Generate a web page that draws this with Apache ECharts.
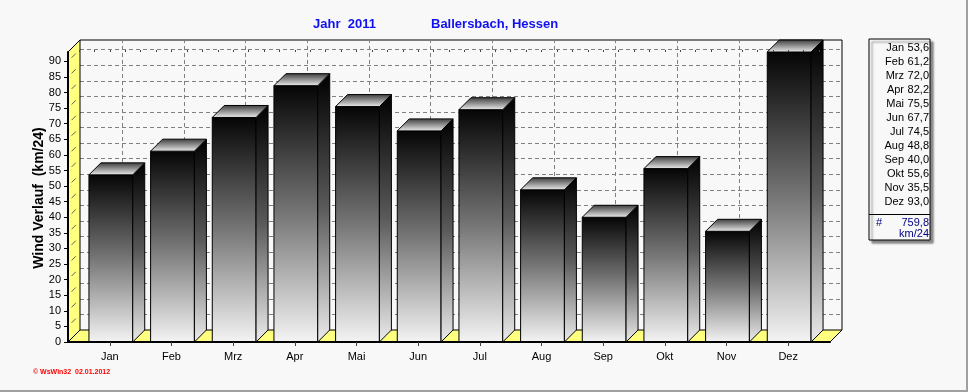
<!DOCTYPE html>
<html>
<head>
<meta charset="utf-8">
<script src="https://cdn.jsdelivr.net/npm/echarts@6/dist/echarts.min.js"></script>
<style>
html,body{margin:0;padding:0;background:#f8f8f8;}
#chart{width:968px;height:392px;}
</style>
</head>
<body>
<div id="chart"></div>
<script>
const categories = ['Jan','Feb','Mrz','Apr','Mai','Jun','Jul','Aug','Sep','Okt','Nov','Dez'];
const windValues = [53.6, 61.2, 72.0, 82.2, 75.5, 67.7, 74.5, 48.8, 40.0, 55.6, 35.5, 93.0];
const yTicks = [0,5,10,15,20,25,30,35,40,45,50,55,60,65,70,75,80,85,90];
const yMax = 93;
const totalLabel = '759,8';
const unitLabel = 'km/24';
const titleYear = 'Jahr  2011';
const titleStation = 'Ballersbach, Hessen';
const yAxisTitle = 'Wind Verlauf  (km/24)';
const footerText = '\u00a9 WsWin32  02.01.2012';

const D = 12; // 3D depth in px
const FONT = 'Liberation Sans, Arial, sans-serif';

const chart = echarts.init(document.getElementById('chart'));

function fmt(v){ return v.toFixed(1).replace('.', ','); }

const legendChildren = [];
legendChildren.push({type:'rect', shape:{x:869,y:39,width:61,height:201},
  style:{fill:'#f8f8f8', stroke:'#000', lineWidth:1, shadowColor:'rgba(0,0,0,0.45)', shadowOffsetX:3, shadowOffsetY:3, shadowBlur:2}});
legendChildren.push({type:'line', shape:{x1:869,y1:214.5,x2:930,y2:214.5}, style:{stroke:'#000', lineWidth:1}});
categories.forEach((c,i)=>{
  legendChildren.push({type:'text', style:{text:c, x:904, y:48+14*i, align:'right', verticalAlign:'middle', font:'11px '+FONT, fill:'#000'}});
  legendChildren.push({type:'text', style:{text:fmt(windValues[i]), x:929, y:48+14*i, align:'right', verticalAlign:'middle', font:'11px '+FONT, fill:'#000'}});
});
legendChildren.push({type:'text', style:{text:'#', x:876, y:223, align:'left', verticalAlign:'middle', font:'11px '+FONT, fill:'#000080'}});
legendChildren.push({type:'text', style:{text:totalLabel, x:929, y:223, align:'right', verticalAlign:'middle', font:'11px '+FONT, fill:'#000080'}});
legendChildren.push({type:'text', style:{text:unitLabel, x:929, y:234, align:'right', verticalAlign:'middle', font:'11px '+FONT, fill:'#000080'}});

const option = {
  backgroundColor:'#f8f8f8',
  animation:false,
  title:[
    {text:titleYear, left:313, top:18, padding:0, textStyle:{color:'#1010f0', fontSize:13, fontWeight:'bold', fontFamily:FONT}},
    {text:titleStation, left:431, top:18, padding:0, textStyle:{color:'#1010f0', fontSize:13, fontWeight:'bold', fontFamily:FONT}}
  ],
  grid:[
    {left:68, right:138, top:52, bottom:50},
    {left:79, right:149, top:52, bottom:50}
  ],
  xAxis:[
    {type:'value', gridIndex:0, min:0, max:1, z:10,
      axisLine:{show:true, lineStyle:{color:'#000', width:2}}, axisTick:{show:false}, axisLabel:{show:false}, splitLine:{show:false}},
    {type:'category', gridIndex:1, data:categories, z:10,
      axisLine:{show:false}, axisTick:{show:true, alignWithLabel:true, length:4, lineStyle:{color:'#444'}},
      axisLabel:{color:'#000', fontSize:11, fontFamily:FONT, margin:9}, splitLine:{show:false}},
    {type:'value', gridIndex:1, min:0, max:categories.length*4, interval:1, z:10,
      axisLine:{show:false}, axisTick:{show:true, length:2, lineStyle:{color:'#444'}}, axisLabel:{show:false}, splitLine:{show:false}}
  ],
  yAxis:[
    {type:'value', gridIndex:0, min:0, max:yMax, z:10,
      axisLine:{show:true, lineStyle:{color:'#000', width:2}},
      axisTick:{show:true, length:4, customValues:yTicks, lineStyle:{color:'#000'}},
      axisLabel:{color:'#000', fontSize:11, fontFamily:FONT, margin:7, customValues:yTicks},
      splitLine:{show:false}},
    {type:'value', gridIndex:1, min:0, max:yMax, show:false}
  ],
  graphic:[
    {type:'group', children:legendChildren},
    {type:'text', x:39, y:198, rotation:Math.PI/2,
      style:{text:yAxisTitle, align:'center', verticalAlign:'middle', font:'bold 14px '+FONT, fill:'#000'}},
    {type:'text', style:{text:footerText, x:33, y:372, verticalAlign:'middle', font:'bold 7px '+FONT, fill:'#ff0000'}},
    {type:'line', shape:{x1:967,y1:0,x2:967,y2:392}, style:{stroke:'#a0a0a0', lineWidth:2}},
    {type:'line', shape:{x1:0,y1:391,x2:968,y2:391}, style:{stroke:'#a0a0a0', lineWidth:2}}
  ],
  series:[
    {
      type:'custom', xAxisIndex:0, yAxisIndex:0, z:1, silent:true,
      data:[[0]],
      renderItem:function(params, api){
        const a = api.coord([0,0]), b = api.coord([1,0]), t = api.coord([0,yMax]);
        const x0=a[0], x1=b[0], y0=a[1], yt=t[1];
        const ch = [];
        ch.push({type:'polygon', shape:{points:[[x0+D,y0-D],[x1+D,y0-D],[x1+D,yt-D],[x0+D,yt-D]]}, style:{fill:'#f8f8f8'}});
        yTicks.forEach(v=>{
          if(v===0) return;
          const y = Math.round(api.coord([0,v])[1]-D)+0.5;
          ch.push({type:'line', shape:{x1:x0+D,y1:y,x2:x1+D,y2:y}, style:{stroke:'#808080', lineWidth:1, lineDash:[4,3]}});
        });
        ch.push({type:'polyline', shape:{points:[[x0+D,yt-D],[x1+D,yt-D],[x1+D,y0-D]]}, style:{stroke:'#000', lineWidth:1, fill:null}});
        ch.push({type:'polygon', shape:{points:[[x0,y0],[x0+D,y0-D],[x0+D,yt-D],[x0,yt]]}, style:{fill:'#ffff80', stroke:'#000', lineWidth:1}});
        yTicks.forEach(v=>{
          if(v===0) return;
          const y = api.coord([0,v])[1];
          ch.push({type:'line', shape:{x1:x0+D*0.3,y1:y-D*0.3,x2:x0+D*0.65,y2:y-D*0.65}, style:{stroke:'#606060', lineWidth:1}});
        });
        ch.push({type:'polygon', shape:{points:[[x0,y0],[x1,y0],[x1+D,y0-D],[x0+D,y0-D]]}, style:{fill:'#ffff80', stroke:'#000', lineWidth:1}});
        return {type:'group', children:ch};
      }
    },
    {
      type:'custom', xAxisIndex:1, yAxisIndex:1, z:2, silent:true,
      data:categories.map((c,i)=>[i]),
      renderItem:function(params, api){
        const i = api.value(0);
        const b = api.coord([i,0]), t = api.coord([i,yMax]);
        const x = Math.round(b[0]+D)+0.5;
        return {type:'line', shape:{x1:x,y1:b[1]-D,x2:x,y2:t[1]-D}, style:{stroke:'#808080', lineWidth:1, lineDash:[4,3]}};
      }
    },
    {
      type:'custom', xAxisIndex:1, yAxisIndex:1, z:3,
      data:windValues.map((v,i)=>[i,v]),
      renderItem:function(params, api){
        const i = api.value(0), v = api.value(1);
        const top = api.coord([i,v]), base = api.coord([i,0]);
        const w = api.size([1,0])[0]*0.71;
        const xl = top[0]-w/2+1, xr = xl+w;
        const yt = top[1], yb = base[1];
        const front = {type:'rect', shape:{x:xl,y:yt,width:w,height:yb-yt},
          style:{fill:new echarts.graphic.LinearGradient(0,0,0,1,[{offset:0,color:'#050505'},{offset:0.5,color:'#767676'},{offset:1,color:'#f4f4f4'}]), stroke:'#000', lineWidth:1}};
        const side = {type:'polygon', shape:{points:[[xr,yt],[xr+D,yt-D],[xr+D,yb-D],[xr,yb]]},
          style:{fill:new echarts.graphic.LinearGradient(0,0,0,1,[{offset:0,color:'#000'},{offset:0.5,color:'#5a5a5a'},{offset:1,color:'#ececec'}]), stroke:'#000', lineWidth:1}};
        const topFace = {type:'polygon', shape:{points:[[xl,yt],[xl+D,yt-D],[xr+D,yt-D],[xr,yt]]},
          style:{fill:new echarts.graphic.LinearGradient(0,0,0,1,[{offset:0,color:'#3a3a3a'},{offset:1,color:'#f0f0f0'}]), stroke:'#000', lineWidth:1}};
        return {type:'group', children:[front, side, topFace]};
      }
    }
  ]
};
chart.setOption(option);
</script>
</body>
</html>
